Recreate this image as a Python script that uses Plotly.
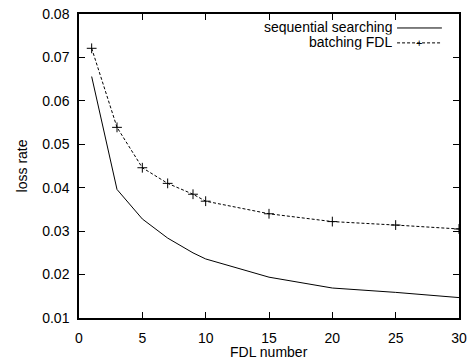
import plotly.graph_objects as go

fdl = [1, 3, 5, 7, 9, 10, 15, 20, 25, 30]
sequential = [0.0656, 0.0396, 0.0328, 0.0284, 0.0250, 0.0236, 0.0194, 0.0169, 0.0159, 0.0147]
batching = [0.0721, 0.0539, 0.0446, 0.0410, 0.0385, 0.0369, 0.0340, 0.0322, 0.0314, 0.0305]
names = ["sequential searching", "batching FDL"]
x_ticks = [0, 5, 10, 15, 20, 25, 30]
y_ticks = [0.01, 0.02, 0.03, 0.04, 0.05, 0.06, 0.07, 0.08]

font = dict(family="Liberation Sans, Arial, sans-serif", size=14, color="black")

fig = go.Figure()
fig.add_trace(go.Scatter(x=fdl, y=sequential, mode="lines", name=names[0],
                         line=dict(color="black", width=1), showlegend=False))
fig.add_trace(go.Scatter(x=fdl, y=batching, mode="lines+markers", name=names[1],
                         line=dict(color="black", width=1, dash="3px,2px"),
                         marker=dict(symbol="cross-thin", size=7,
                                     line=dict(color="black", width=1)),
                         showlegend=False))

# gnuplot-style key (text right-aligned, sample on the right)
key_rows = [0.954, 0.905]
for i, nm in enumerate(names):
    fig.add_annotation(xref="paper", yref="paper", x=0.829, y=key_rows[i],
                       text=nm, showarrow=False, xanchor="right", yanchor="middle",
                       height=14.5, font=font)
fig.add_shape(type="line", xref="paper", yref="paper", x0=0.837, x1=0.955,
              y0=key_rows[0], y1=key_rows[0], line=dict(color="black", width=1))
fig.add_shape(type="line", xref="paper", yref="paper", x0=0.837, x1=0.955,
              y0=key_rows[1], y1=key_rows[1],
              line=dict(color="black", width=1, dash="3px,2px"))
fig.add_annotation(xref="paper", yref="paper", x=0.896, y=key_rows[1],
                   text="+", showarrow=False, xanchor="center", yanchor="middle",
                   height=12, font=dict(family="Liberation Sans", size=11, color="black"))

# axis titles
fig.add_annotation(xref="paper", yref="paper", x=0.5, y=-0.112, text="FDL number",
                   showarrow=False, xanchor="center", yanchor="middle", font=font)
fig.add_annotation(xref="paper", yref="paper", x=-0.149, y=0.5, text="loss rate",
                   showarrow=False, xanchor="center", yanchor="middle", textangle=-90,
                   font=font)

axis_common = dict(showgrid=False, zeroline=False, showline=True, linecolor="black",
                   linewidth=1.5, mirror="ticks", ticks="inside", ticklen=6,
                   tickcolor="black", tickwidth=1, tickfont=font, automargin=False)
fig.update_xaxes(range=[0, 30], tickvals=x_ticks, ticktext=[str(v) for v in x_ticks],
                 ticklabelstandoff=6, **axis_common)
fig.update_yaxes(range=[0.01, 0.08], tickvals=y_ticks,
                 ticktext=[f"{v:.2f}" for v in y_ticks], ticklabelstandoff=5,
                 **axis_common)

fig.update_layout(width=471, height=362, margin=dict(l=79, r=12, t=14, b=44),
                  plot_bgcolor="white", paper_bgcolor="white", font=font)
fig.write_html("out.html")
